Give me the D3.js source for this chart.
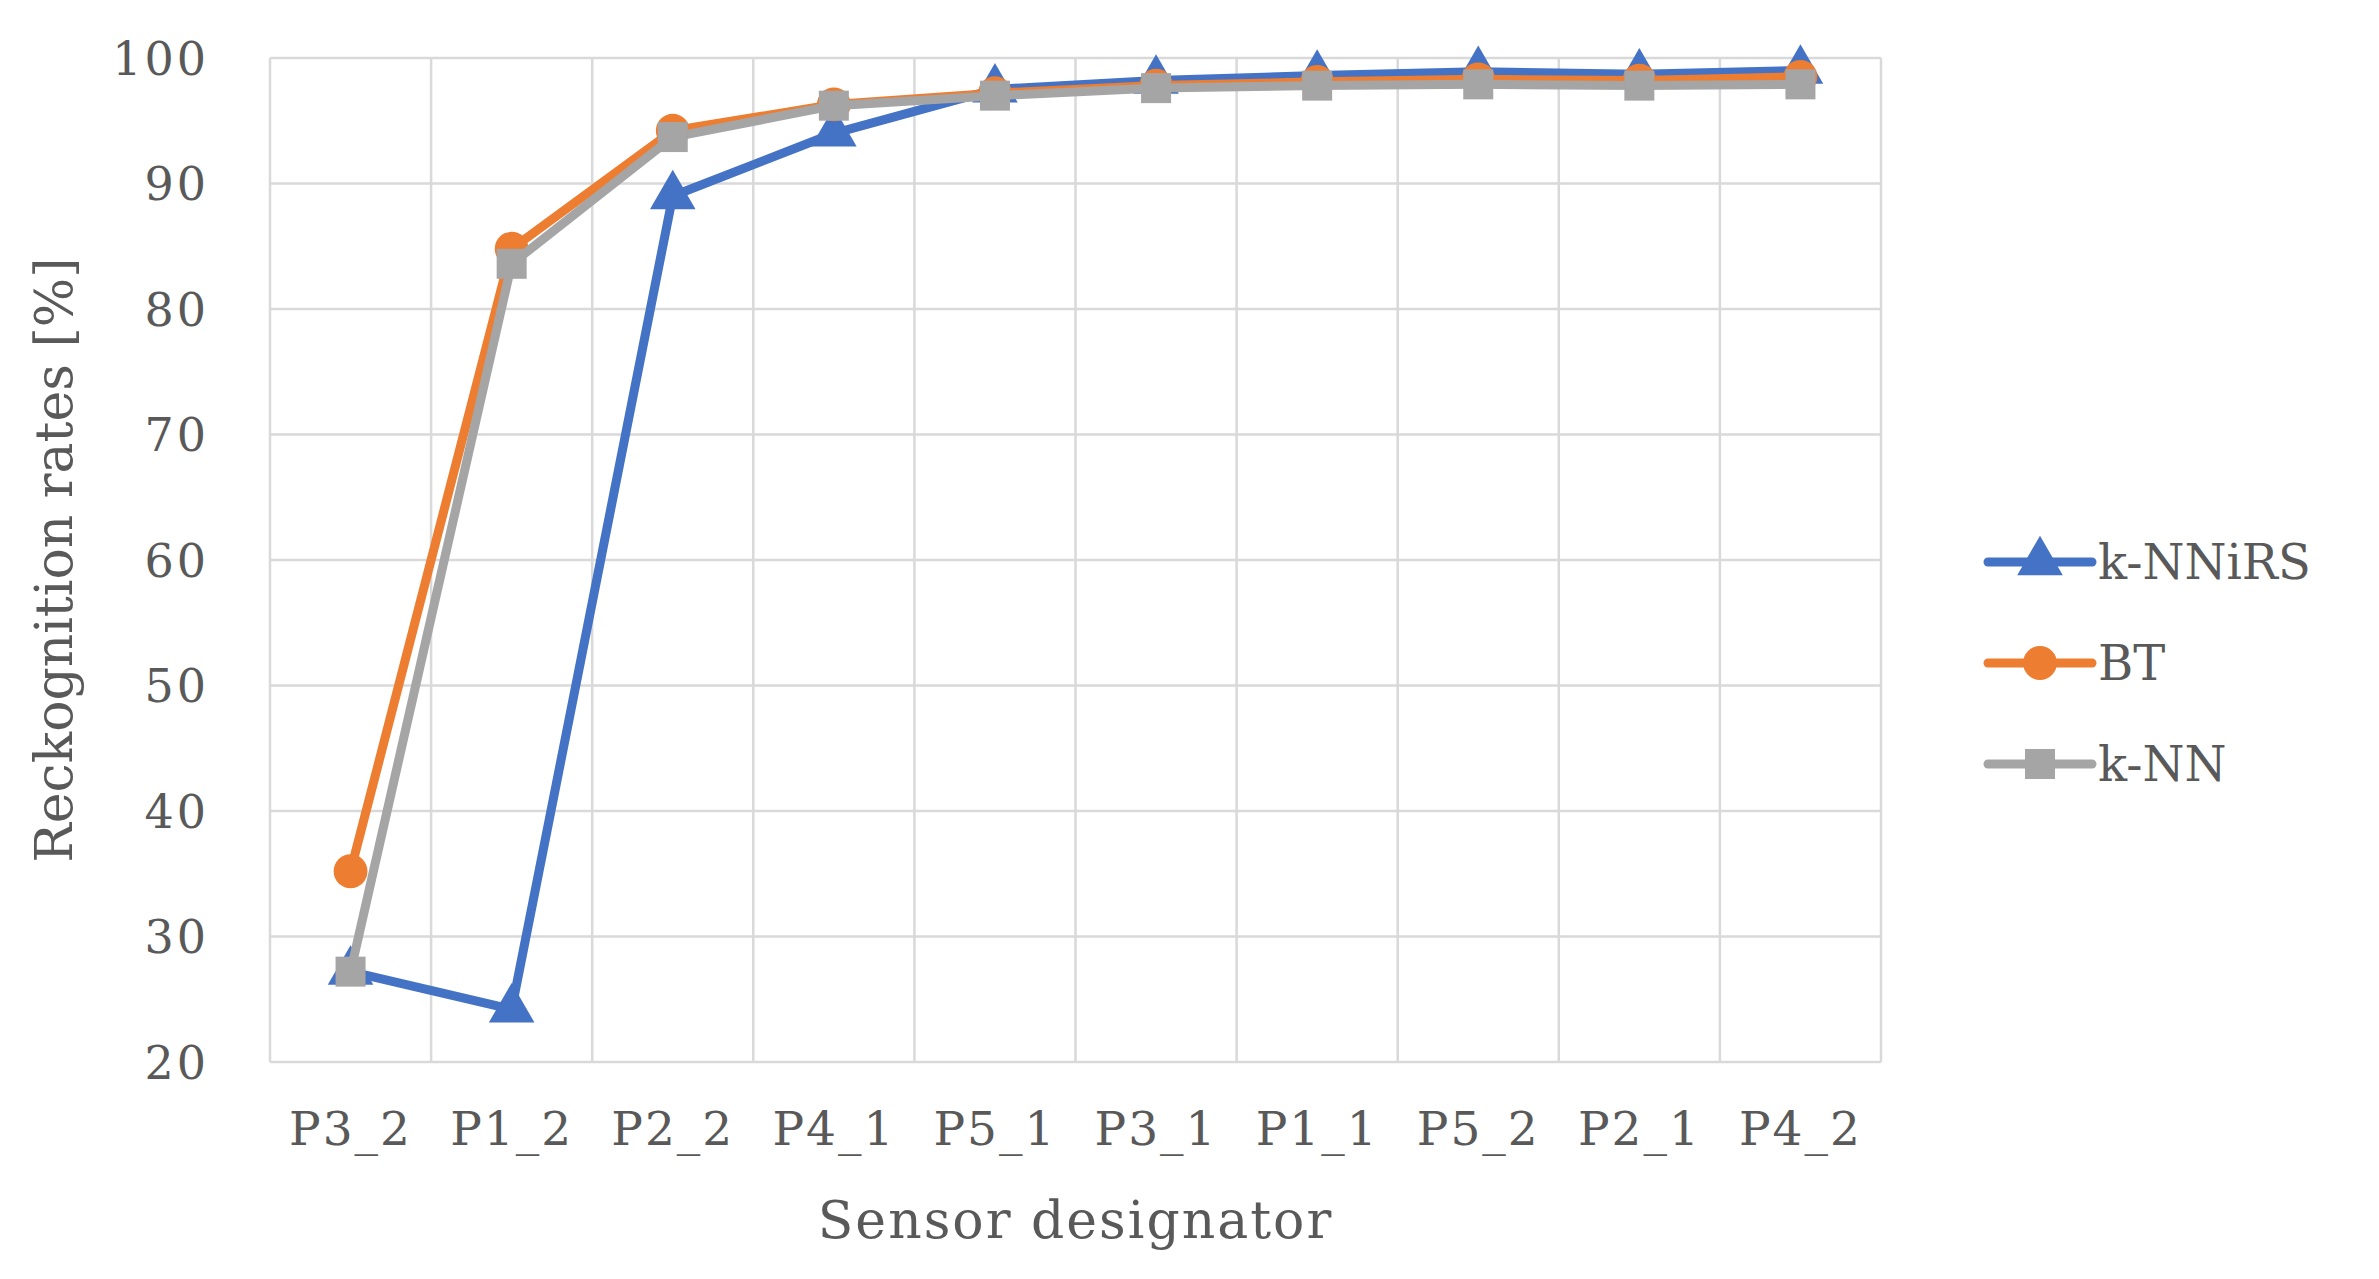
<!DOCTYPE html>
<html><head><meta charset="utf-8">
<script src="https://cdn.jsdelivr.net/npm/d3@7"></script>
<style>body{margin:0;background:#fff}</style>
</head><body><svg></svg>
<script>
var categories = ["P3_2","P1_2","P2_2","P4_1","P5_1","P3_1","P1_1","P5_2","P2_1","P4_2"];
var knnirs = [27.2, 24.2, 89.0, 94.0, 97.5, 98.2, 98.6, 98.9, 98.7, 99.0];
var bt     = [35.2, 84.8, 94.2, 96.3, 97.2, 97.8, 98.1, 98.3, 98.2, 98.5];
var knn    = [27.2, 83.6, 93.7, 96.2, 97.0, 97.6, 97.8, 97.9, 97.8, 97.9];
var yTicks = [20,30,40,50,60,70,80,90,100];

var W = 2379, H = 1279;
var plotLeft = 270, plotRight = 1881, plotTop = 58, plotBottom = 1062;
var font = "'DejaVu Serif', 'Liberation Serif', serif";
var svg = d3.select("svg").attr("width", W).attr("height", H);

var x = d3.scaleBand().domain(categories).range([plotLeft, plotRight]);
var y = d3.scaleLinear().domain([20, 100]).range([plotBottom, plotTop]);

// grid
svg.append("g").selectAll("line").data(yTicks).enter().append("line")
  .attr("x1", plotLeft).attr("x2", plotRight)
  .attr("y1", function(d){ return y(d); }).attr("y2", function(d){ return y(d); })
  .attr("stroke", "#d9d9d9").attr("stroke-width", 2.5);
var edges = categories.map(function(c){ return x(c); }).concat([plotRight]);
svg.append("g").selectAll("line").data(edges).enter().append("line")
  .attr("x1", function(d){ return d; }).attr("x2", function(d){ return d; })
  .attr("y1", plotTop).attr("y2", plotBottom)
  .attr("stroke", "#d9d9d9").attr("stroke-width", 2.5);

// axes labels
var yAxis = svg.append("g").attr("transform", "translate(" + (plotLeft - 58) + ",0)")
  .call(d3.axisLeft(y).tickValues(yTicks).tickSize(0));
yAxis.select(".domain").remove();
yAxis.selectAll("text").attr("font-family", font).attr("font-size", 46).attr("fill", "#595959")
  .attr("letter-spacing", 3).attr("dy", "0.35em");

var xAxis = svg.append("g").attr("transform", "translate(0," + (plotBottom + 38) + ")")
  .call(d3.axisBottom(x).tickSize(0));
xAxis.select(".domain").remove();
xAxis.selectAll("text").attr("font-family", font).attr("font-size", 47).attr("fill", "#595959")
  .attr("letter-spacing", 2).attr("dy", "0.9em");

svg.append("text").attr("x", (plotLeft + plotRight) / 2).attr("y", 1238)
  .attr("text-anchor", "middle").attr("font-family", font).attr("font-size", 52).attr("fill", "#595959")
  .attr("letter-spacing", 2).text("Sensor designator");
svg.append("text").attr("transform", "translate(72," + ((plotTop + plotBottom) / 2) + ") rotate(-90)")
  .attr("text-anchor", "middle").attr("font-family", font).attr("font-size", 52).attr("fill", "#595959")
  .text("Reckognition rates [%]");

var series = [
  {name: "k-NNiRS", values: knnirs, color: "#4472C4", shape: d3.symbolTriangle},
  {name: "BT", values: bt, color: "#ED7D31", shape: d3.symbolCircle},
  {name: "k-NN", values: knn, color: "#A5A5A5", shape: d3.symbolSquare}
];
var line = d3.line()
  .x(function(d, i){ return x(categories[i]) + x.bandwidth() / 2; })
  .y(function(d){ return y(d); });

series.forEach(function(s){
  svg.append("path").attr("d", line(s.values)).attr("fill", "none")
    .attr("stroke", s.color).attr("stroke-width", 9).attr("stroke-linejoin", "round");
  svg.append("g").selectAll("path").data(s.values).enter().append("path")
    .attr("d", d3.symbol().type(s.shape).size(900))
    .attr("transform", function(d, i){ return "translate(" + (x(categories[i]) + x.bandwidth() / 2) + "," + y(d) + ")"; })
    .attr("fill", s.color);
});

// legend
var lg = svg.append("g").selectAll("g").data(series).enter().append("g")
  .attr("transform", function(d, i){ return "translate(1988," + (562 + i * 101) + ")"; });
lg.append("line").attr("x1", 0).attr("x2", 104).attr("stroke", function(d){ return d.color; })
  .attr("stroke-width", 9).attr("stroke-linecap", "round");
lg.append("path").attr("d", function(d){ return d3.symbol().type(d.shape).size(900)(); })
  .attr("transform", "translate(52,0)").attr("fill", function(d){ return d.color; });
lg.append("text").attr("x", 110).attr("dy", "0.35em").attr("font-family", font).attr("font-size", 48)
  .attr("fill", "#595959").text(function(d){ return d.name; });
</script></body></html>
